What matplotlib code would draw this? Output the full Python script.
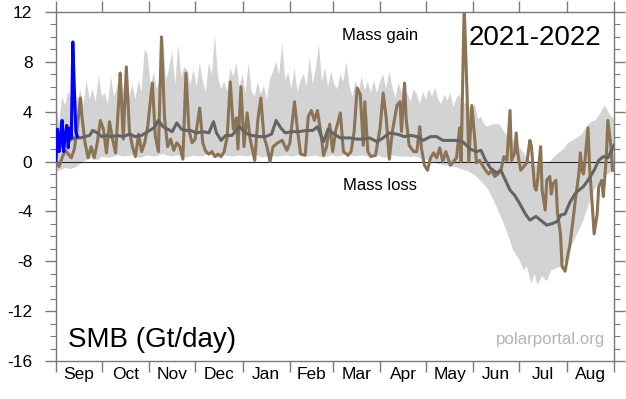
import matplotlib
matplotlib.use("Agg")
import matplotlib.pyplot as plt
import numpy as np
from matplotlib.ticker import FixedLocator, MultipleLocator, NullFormatter

plt.rcParams['font.family'] = ['Liberation Sans', 'DejaVu Sans']
plt.rcParams['axes.unicode_minus'] = False

# season runs from 1 Sep (day 0) to 31 Aug (day 364)
months = ['Sep', 'Oct', 'Nov', 'Dec', 'Jan', 'Feb', 'Mar', 'Apr', 'May', 'Jun', 'Jul', 'Aug']
month_len = [30, 31, 30, 31, 31, 28, 31, 30, 31, 30, 31, 31]

# 2021-2022 SMB (Gt/day)
brown_day = [0, 2, 4, 6, 8, 10, 12, 14, 16, 17, 19, 21, 23, 25, 27, 29, 31, 33, 35, 37,
             39, 41, 42, 44, 46, 48, 50, 52, 54, 56, 58, 60, 61, 63, 65, 67, 69, 71, 73, 75,
             77, 79, 81, 83, 85, 87, 89, 91, 94, 96, 98, 100, 102, 104, 106, 108, 110, 112, 114, 116,
             118, 119, 121, 123, 125, 127, 130, 132, 134, 136, 138, 140, 142, 145, 148, 151, 153, 156, 158, 160,
             163, 165, 167, 169, 171, 173, 175, 177, 179, 181, 183, 186, 188, 191, 193, 195, 197, 199, 201, 202,
             204, 206, 209, 212, 214, 216, 218, 220, 223, 225, 226, 228, 229, 231, 234, 236, 238, 239, 241, 243,
             245, 247, 249, 251, 253, 255, 258, 260, 262, 264, 265, 267, 269, 270, 272, 274, 275, 277, 279, 281,
             283, 285, 287, 289, 291, 293, 295, 297, 298, 300, 301, 302, 304, 306, 308, 310, 311, 313, 314, 315,
             317, 318, 320, 321, 323, 324, 325, 327, 328, 330, 331, 333, 335, 336, 338, 340, 342, 343, 344, 345,
             346, 348, 349, 351, 352, 354, 355, 357, 358, 360, 361, 363, 364]
brown_smb = [0.0, -0.4, 0.3, 0.9, 0.6, 0.3, 1.0, 2.8, 5.1, 3.6, 1.5, 0.3, 1.2, 0.3, 1.5, 3.3, 2.6, 0.7, 3.2, 1.8,
             0.7, 4.8, 7.1, 1.8, 7.6, 2.5, 1.2, 0.4, 2.2, 0.8, 1.5, 2.8, 4.0, 6.3, 2.0, 0.8, 10.0, 3.5, 1.2, 1.8,
             0.9, 1.5, 1.2, 0.2, 7.1, 2.5, 1.5, 1.8, 4.3, 1.5, 0.8, 0.6, 0.8, 0.4, 0.6, 0.4, 0.8, 2.0, 6.4, 2.6,
             3.5, 1.0, 6.0, 1.2, 3.9, 1.8, 0.1, 3.3, 5.1, 2.0, 1.2, 0.0, 1.2, 1.5, 1.7, 0.9, 1.5, 4.8, 2.5, 0.6,
             0.5, 3.6, 4.1, 3.3, 4.1, 2.5, 0.5, 1.2, 3.0, 0.8, 2.5, 3.9, 0.8, 0.5, 0.8, 2.4, 5.9, 5.4, 1.3, 4.8,
             0.8, 0.4, 0.5, 2.7, 5.5, 3.5, 0.2, 2.4, 4.5, 4.8, 2.4, 6.3, 3.5, 1.3, 0.8, 0.8, 2.8, 1.1, -0.3, -0.7,
             0.3, 0.7, 0.3, 1.1, 0.0, 0.8, -0.3, 0.0, 0.3, 2.7, 0.0, 12.5, 5.0, 0.0, 4.5, 1.7, -0.1, 0.1, -0.3, -0.7,
             -1.0, -0.7, -1.2, -1.0, -0.7, 0.4, 0.1, 4.1, 0.1, 0.7, 2.3, 0.7, -0.7, -0.4, -0.1, 1.7, 1.2, -2.0, -2.3, -1.5,
             1.2, -2.3, -3.9, -1.5, -1.2, -2.6, -1.8, -1.5, -4.1, -5.8, -8.4, -8.8, -7.4, -6.8, -4.9, -2.8, -1.0, 0.7, -0.7, -1.0,
             0.1, 2.7, -0.4, -3.9, -5.8, -4.2, -2.0, -1.5, -2.8, 0.4, 3.3, 1.2, -0.7]

# 2022-2023 so far
blue_day = [0, 1, 2, 3, 4, 5, 6, 7, 8, 9, 10, 11, 12, 13, 14]
blue_smb = [0.1, 2.6, 0.8, 2.0, 3.3, 0.8, 2.1, 2.9, 1.1, 2.7, 1.9, 9.6, 5.8, 2.4, 2.0]

# mean 1981-2010
mean_day = [0, 3, 6, 9, 12, 16, 19, 22, 24, 27, 30, 33, 36, 40, 44, 48, 52, 56, 60, 64,
            67, 70, 73, 76, 79, 82, 85, 88, 92, 96, 100, 103, 105, 108, 111, 115, 120, 124, 128, 133,
            137, 141, 144, 147, 150, 154, 159, 164, 168, 171, 175, 178, 182, 186, 192, 197, 201, 205, 210, 214,
            218, 223, 228, 232, 236, 240, 245, 249, 253, 257, 262, 266, 271, 275, 278, 281, 284, 288, 291, 294,
            297, 300, 303, 307, 310, 314, 318, 321, 324, 328, 330, 333, 336, 340, 345, 348, 352, 355, 358, 361,
            363, 365]
mean_smb = [0.8, 1.2, 1.8, 1.7, 1.9, 1.9, 2.0, 2.1, 2.5, 2.3, 2.0, 2.1, 2.0, 2.1, 2.0, 2.2, 2.0, 2.1, 2.4, 2.7,
            3.3, 2.8, 2.6, 2.4, 3.1, 2.6, 2.5, 2.5, 2.3, 2.4, 2.3, 3.2, 2.3, 1.7, 2.1, 2.1, 2.8, 2.3, 2.1, 2.0,
            2.0, 2.2, 3.3, 2.7, 2.3, 2.4, 2.4, 2.5, 2.5, 2.8, 1.6, 2.6, 2.2, 1.9, 1.9, 1.8, 1.8, 1.9, 1.6, 1.9,
            2.3, 2.2, 2.0, 2.1, 2.0, 1.7, 2.0, 2.0, 1.7, 1.7, 1.7, 1.6, 1.0, 0.8, 0.9, 0.1, -0.5, -0.9, -0.7, -1.5,
            -2.3, -2.7, -3.3, -4.2, -4.7, -4.4, -4.8, -5.1, -5.0, -4.8, -4.3, -4.2, -3.3, -2.5, -2.0, -1.5, -0.7, 0.1, 0.4, 0.3,
            0.8, 1.3]

# min-max range 1981-2010
upper_day = [0, 2, 4, 6, 8, 10, 12, 14, 16, 18, 20, 22, 24, 26, 28, 30, 32, 34, 36, 38,
             40, 42, 44, 46, 48, 50, 52, 54, 56, 58, 60, 62, 64, 66, 68, 70, 72, 74, 76, 78,
             80, 82, 84, 86, 88, 90, 92, 94, 96, 98, 100, 102, 104, 106, 108, 110, 112, 114, 116, 118,
             120, 122, 124, 126, 128, 130, 132, 134, 136, 138, 140, 142, 144, 146, 148, 150, 152, 154, 156, 158,
             160, 162, 164, 166, 168, 170, 172, 174, 176, 178, 180, 182, 184, 186, 188, 190, 192, 194, 196, 198,
             200, 202, 204, 206, 208, 210, 212, 214, 216, 218, 220, 222, 224, 226, 228, 230, 232, 234, 236, 238,
             240, 242, 244, 246, 248, 250, 252, 254, 256, 258, 260, 262, 264, 266, 268, 270, 272, 274, 276, 278,
             280, 282, 286, 290, 293, 297, 300, 304, 308, 311, 314, 317, 320, 323, 326, 329, 332, 335, 338, 341,
             344, 347, 350, 353, 356, 359, 362, 365]
upper_smb = [4.8, 3.0, 5.2, 4.5, 5.6, 5.0, 6.0, 4.8, 5.8, 4.5, 6.5, 5.0, 5.8, 4.8, 6.9, 5.2, 5.5, 4.6, 6.8, 5.2,
             6.0, 7.4, 5.5, 7.7, 5.2, 6.2, 5.0, 6.5, 5.6, 9.0, 8.6, 6.0, 7.2, 5.8, 6.8, 10.1, 6.5, 7.5, 8.8, 6.2,
             9.4, 6.8, 7.6, 7.3, 6.2, 7.4, 6.0, 7.9, 6.5, 5.6, 7.9, 7.0, 10.1, 6.8, 5.8, 6.4, 5.6, 7.5, 6.8, 7.9,
             6.0, 7.0, 5.5, 7.9, 5.6, 5.2, 6.4, 5.4, 6.1, 5.0, 6.6, 7.2, 8.0, 7.0, 9.5, 6.5, 7.2, 5.8, 7.5, 5.6,
             6.5, 7.0, 6.0, 8.4, 6.2, 7.5, 9.4, 6.4, 7.5, 6.0, 7.2, 6.2, 5.8, 7.0, 6.4, 8.0, 6.0, 5.2, 6.5, 5.6,
             6.8, 5.7, 6.4, 5.5, 6.5, 5.5, 6.4, 7.0, 5.8, 7.2, 6.0, 5.1, 6.3, 5.6, 6.0, 5.4, 4.8, 5.8, 5.4, 4.6,
             5.6, 5.0, 5.8, 5.2, 5.9, 5.0, 4.6, 5.4, 4.9, 5.5, 4.4, 5.1, 5.4, 4.4, 4.8, 4.4, 4.0, 4.6, 3.4, 3.6,
             3.0, 2.8, 3.0, 3.0, 2.4, 1.8, 1.6, 1.0, 0.3, 0.0, -0.3, 0.2, -0.2, 0.0, 0.4, 0.7, 1.0, 1.5, 1.7, 1.9,
             2.2, 2.8, 3.2, 3.3, 3.9, 4.5, 3.8, 3.4]
lower_day = [0, 3, 6, 9, 12, 15, 18, 21, 24, 27, 30, 35, 40, 45, 50, 55, 60, 65, 70, 75,
             80, 85, 90, 95, 100, 105, 110, 115, 120, 125, 130, 135, 140, 145, 150, 155, 160, 165, 170, 175,
             180, 185, 190, 195, 200, 205, 210, 215, 220, 225, 230, 235, 240, 245, 250, 255, 260, 265, 270, 274,
             279, 283, 288, 292, 296, 299, 303, 306, 308, 311, 313, 315, 318, 321, 324, 327, 330, 334, 336, 339,
             342, 345, 348, 351, 355, 358, 361, 365]
lower_smb = [-0.8, -0.7, -0.5, -0.6, -0.5, -0.3, 0.0, 0.2, 0.3, 0.1, 0.4, 0.3, 0.5, 0.4, 0.5, 0.3, 0.5, 0.4, 0.6, 0.4,
             0.5, 0.3, 0.5, 0.4, 0.6, 0.3, 0.5, 0.4, 0.5, 0.4, 0.6, 0.3, 0.5, 0.4, 0.5, 0.4, 0.6, 0.4, 0.5, 0.3,
             0.5, 0.4, 0.6, 0.4, 0.5, 0.4, 0.5, 0.3, 0.5, 0.4, 0.4, 0.4, 0.2, 0.1, -0.2, -0.3, -0.4, -0.6, -0.8, -1.1,
             -1.7, -2.3, -3.6, -4.7, -6.0, -7.1, -7.9, -8.7, -8.4, -9.8, -9.0, -9.9, -9.2, -9.6, -8.7, -8.6, -8.4, -7.9, -7.1, -6.3,
             -5.5, -4.7, -3.6, -2.5, -1.7, -1.2, -1.0, -0.7]


fig = plt.figure(figsize=(6.26, 3.99), dpi=100)
ax = fig.add_axes([56 / 626, 1 - 361 / 399, 558 / 626, 349 / 399])

band_x = upper_day + lower_day[::-1]
band_y = upper_smb + lower_smb[::-1]
ax.fill(band_x, band_y, color='#d3d3d3', lw=0, zorder=1)
ax.axhline(0, color='#222222', lw=0.8, zorder=2)

ax.plot(brown_day, brown_smb, color='#8b7355', lw=2.2, zorder=3, solid_joinstyle='round')
ax.plot(mean_day, mean_smb, color='#646464', lw=2.2, zorder=4, solid_joinstyle='round')
ax.plot(blue_day, blue_smb, color='#0000ff', lw=2.2, zorder=5, solid_joinstyle='round')

ax.set_xlim(0, 365)
ax.set_ylim(-16, 12)

bounds = np.concatenate([[0], np.cumsum(month_len)])
mids = (bounds[:-1] + bounds[1:]) / 2
ax.xaxis.set_major_locator(FixedLocator(bounds))
ax.xaxis.set_major_formatter(NullFormatter())
ax.xaxis.set_minor_locator(FixedLocator(mids))
ax.set_xticklabels(months, minor=True)
ax.yaxis.set_major_locator(MultipleLocator(4))
ax.yaxis.set_minor_locator(MultipleLocator(1))

edge = '#7a7a7a'
for s in ax.spines.values():
    s.set_color(edge)
    s.set_linewidth(1.0)

ax.tick_params(axis='x', which='major', direction='out', length=8, width=1.0,
               color=edge, top=True, bottom=True)
ax.tick_params(axis='x', which='minor', length=0, pad=4, labelsize=12.5)
ax.tick_params(axis='y', which='major', direction='out', length=8, width=1.0,
               color=edge, left=True, right=True, labelsize=12.5, pad=9)
ax.tick_params(axis='y', which='minor', direction='out', length=4, width=0.8,
               color=edge, left=True, right=True)

ax.text(0.581, 0.934, 'Mass gain', transform=ax.transAxes, ha='center', va='center', fontsize=12)
ax.text(0.581, 0.504, 'Mass loss', transform=ax.transAxes, ha='center', va='center', fontsize=12)
ax.text(0.978, 0.926, '2021-2022', transform=ax.transAxes, ha='right', va='center', fontsize=20)
ax.text(0.0215, 0.06, 'SMB (Gt/day)', transform=ax.transAxes, ha='left', va='center', fontsize=20)
ax.text(0.984, 0.063, 'polarportal.org', transform=ax.transAxes, ha='right', va='center',
        fontsize=12.2, color='#b4b4b4')

fig.savefig('out.png', dpi=100)
